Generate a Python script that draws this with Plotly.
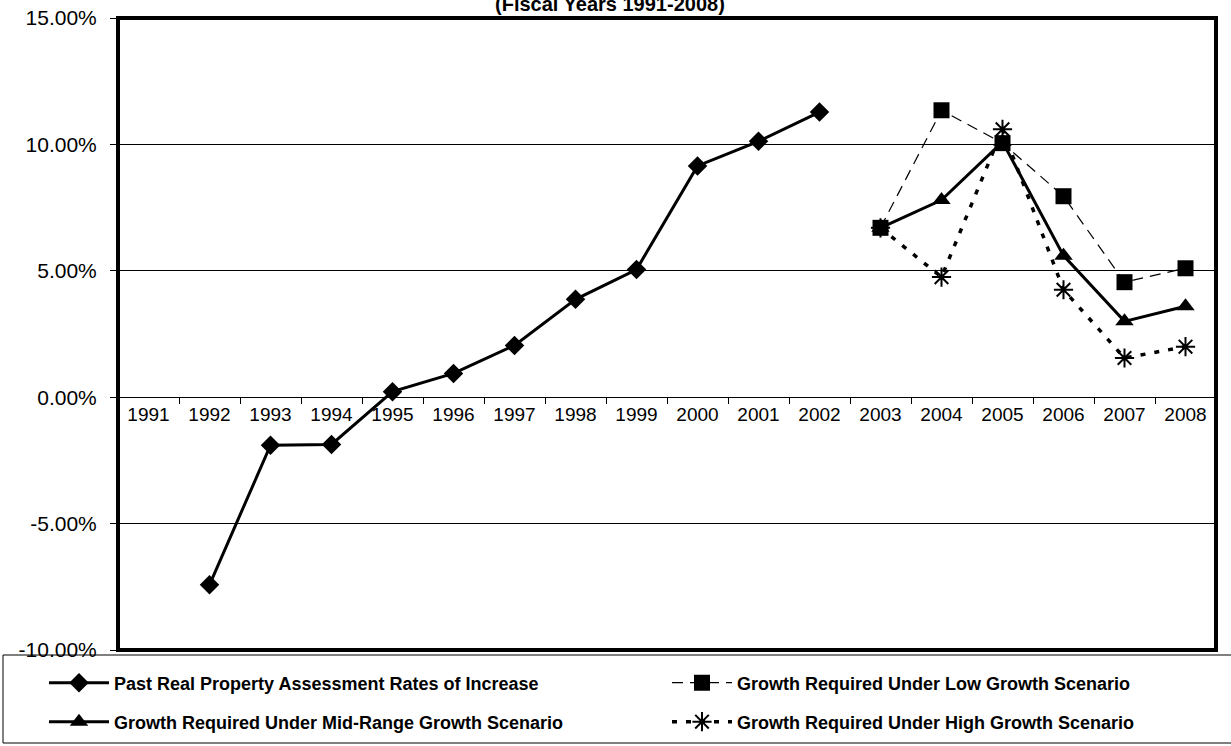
import plotly.graph_objects as go

# categories and series (rates as fractions)
years = [str(y) for y in range(1991, 2009)]

past_rates = [None, -0.0742, -0.0190, -0.0187, 0.0022, 0.0094, 0.0205, 0.0387,
              0.0505, 0.0915, 0.1012, 0.1128, None, None, None, None, None, None]
low_growth = [None] * 12 + [0.0670, 0.1135, 0.1005, 0.0795, 0.0455, 0.0510]
mid_growth = [None] * 12 + [0.0670, 0.0780, 0.1010, 0.0560, 0.0300, 0.0360]
high_growth = [None] * 12 + [0.0670, 0.0475, 0.1060, 0.0425, 0.0155, 0.0200]

y_ticks = [-0.10, -0.05, 0.0, 0.05, 0.10, 0.15]
y_labels = ["-10.00%", "-5.00%", "0.00%", "5.00%", "10.00%", "15.00%"]

names = ["Past Real Property Assessment Rates of Increase",
         "Growth Required Under Low Growth Scenario",
         "Growth Required Under Mid-Range Growth Scenario",
         "Growth Required Under High Growth Scenario"]

FONT = "Liberation Sans, Arial, sans-serif"

# plot area in pixels
W, H = 1231, 746
L, R, T, B = 118, 1216, 18, 650
pw, ph = R - L, B - T


def px_x(x):
    return (x - L) / pw


def px_y(y):
    return (B - y) / ph


fig = go.Figure()

fig.add_trace(go.Scatter(
    x=years, y=past_rates, name=names[0], mode="lines+markers",
    line=dict(color="black", width=3),
    marker=dict(symbol="diamond", size=15, color="black"),
    legend="legend"))

fig.add_trace(go.Scatter(
    x=years, y=high_growth, name=names[3], mode="lines+markers",
    line=dict(color="black", width=3.5, dash="5px,9px"),
    marker=dict(symbol="asterisk-open", size=16, line=dict(color="black", width=2)),
    legend="legend4"))

fig.add_trace(go.Scatter(
    x=years, y=mid_growth, name=names[2], mode="lines+markers",
    line=dict(color="black", width=3),
    marker=dict(symbol="triangle-up", size=16, color="black"),
    legend="legend3"))

fig.add_trace(go.Scatter(
    x=years, y=low_growth, name=names[1], mode="lines+markers",
    line=dict(color="black", width=1.2, dash="11px,7px"),
    marker=dict(symbol="square", size=16, color="black"),
    legend="legend2"))

leg_common = dict(xanchor="left", yanchor="middle", bgcolor="rgba(0,0,0,0)",
                  borderwidth=0, itemwidth=60,
                  font=dict(family=FONT, size=18, color="black", weight="bold"))

fig.update_layout(
    width=W, height=H,
    margin=dict(l=L, r=W - R, t=T, b=H - B, pad=0, autoexpand=False),
    plot_bgcolor="white", paper_bgcolor="white",
    font=dict(family=FONT, color="black"),
    legend=dict(x=px_x(44), y=px_y(683), **leg_common),
    legend2=dict(x=px_x(667), y=px_y(683), **leg_common),
    legend3=dict(x=px_x(44), y=px_y(722), **leg_common),
    legend4=dict(x=px_x(667), y=px_y(722), **leg_common),
    showlegend=True,
)

# title, partly cut off by the top edge as in the scan
fig.add_annotation(text="<b>(Fiscal Years 1991-2008)</b>", xref="paper", yref="paper",
                   x=px_x(610), y=px_y(4), xanchor="center", yanchor="middle",
                   showarrow=False, font=dict(family=FONT, size=20, color="black"))

fig.update_xaxes(
    type="category", categoryorder="array", categoryarray=years,
    range=[-0.5, len(years) - 0.5],
    anchor="free", position=0.4,
    showline=True, linecolor="black", linewidth=1,
    showgrid=False, zeroline=False,
    ticks="outside", tickson="boundaries", ticklen=6, tickcolor="black",
    tickfont=dict(family=FONT, size=19, color="black"),
)

fig.update_yaxes(
    range=[-0.10, 0.15], tickmode="array", tickvals=y_ticks, ticktext=y_labels,
    showgrid=True, gridcolor="black", gridwidth=1,
    zeroline=False, showline=False,
    ticks="outside", ticklen=7, tickcolor="black",
    ticklabelstandoff=9,
    tickfont=dict(family=FONT, size=21, color="black"),
)

# plot frame
fig.add_shape(type="rect", xref="x domain", yref="y domain",
              x0=0, x1=1, y0=0, y1=1, line=dict(color="black", width=4), layer="above")
# legend frame
fig.add_shape(type="rect", xref="paper", yref="paper",
              x0=px_x(3), x1=px_x(1233), y0=px_y(655), y1=px_y(743),
              line=dict(color="black", width=1), layer="above")

# drop the page's default body margin so the chart sits at the window's corner
fig.write_html("out.html", config={"displayModeBar": False},
               post_script="document.body.style.margin='0';")
